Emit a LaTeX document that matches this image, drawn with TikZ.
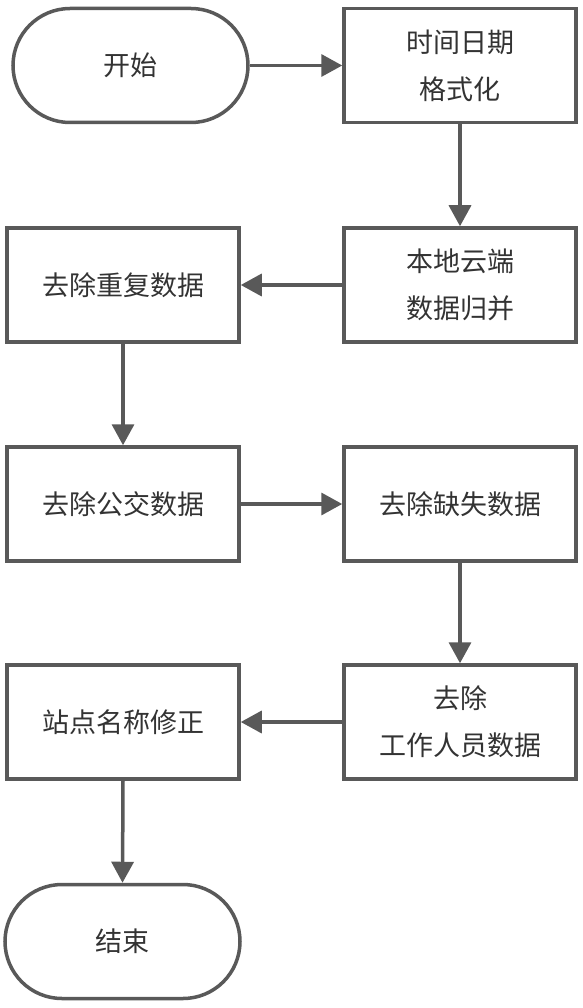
\documentclass[tikz,border=0pt]{standalone}
\usepackage{fontspec}
\setmainfont{Noto Sans CJK SC}
\usetikzlibrary{arrows.meta}
\definecolor{lc}{HTML}{595959}
\definecolor{tc}{HTML}{333333}
\begin{document}
\begin{tikzpicture}[x=1pt,y=-1pt,
  box/.style={draw=lc,line width=3.5pt,fill=white,minimum width=232pt,minimum height=114pt,inner sep=0pt,align=center,text=tc,font=\fontsize{27}{47}\selectfont},
  term/.style={box,rounded corners=57pt,minimum width=235pt},
  arr/.style={draw=lc,line width=3.5pt,-{Triangle[length=21pt,width=22pt]}}]
\useasboundingbox (0,0) rectangle (582,1008);
\node[term] (start) at (130.5,65.5) {开始};
\node[box] (n1) at (460,65.5) {时间日期\\格式化};
\node[box] (n2) at (460,285) {本地云端\\数据归并};
\node[box] (n3) at (123,285) {去除重复数据};
\node[box] (n4) at (123,504) {去除公交数据};
\node[box] (n5) at (460,504) {去除缺失数据};
\node[box] (n6) at (460,722) {去除\\工作人员数据};
\node[box] (n7) at (123,722) {站点名称修正};
\node[term] (end) at (122.5,941.5) {结束};
\draw[arr] (start.east) -- (n1.west);
\draw[arr] (n1.south) -- (n2.north);
\draw[arr] (n2.west) -- (n3.east);
\draw[arr] (n3.south) -- (n4.north);
\draw[arr] (n4.east) -- (n5.west);
\draw[arr] (n5.south) -- (n6.north);
\draw[arr] (n6.west) -- (n7.east);
\draw[arr] (n7.south) -- (end.north);
\end{tikzpicture}
\end{document}
